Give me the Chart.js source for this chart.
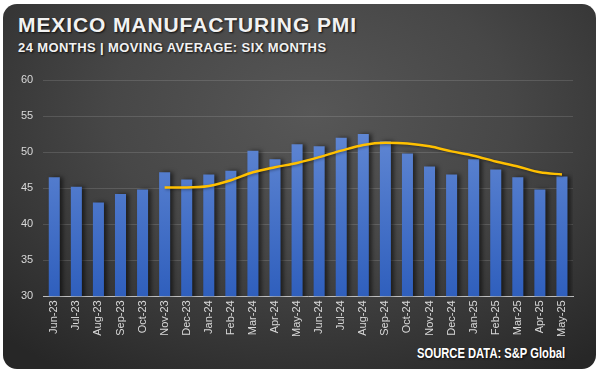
<!DOCTYPE html>
<html>
<head>
<meta charset="utf-8">
<script src="https://cdn.jsdelivr.net/npm/chart.js@4"></script>
<style>
  html, body { margin: 0; padding: 0; background: #ffffff; }
  #wrap { position: relative; width: 601px; height: 373px; overflow: hidden; }
  #card {
    position: absolute; left: 3px; top: 4px; width: 593px; height: 365px;
    border-radius: 14px;
    background: radial-gradient(ellipse 75% 85% at 52% 30%, #575757 0%, #474747 45%, #333333 80%, #272727 100%);
  }
  .t { position: absolute; color: #f2f2f2; font-family: "Liberation Sans", Arial, sans-serif; font-weight: bold; white-space: nowrap;
       text-shadow: 1px 1px 2px rgba(0,0,0,0.8); transform-origin: left top; }
  #title { left: 18px; top: 13px; font-size: 21px; letter-spacing: 0.9px; }
  #sub { left: 18px; top: 40px; font-size: 13px; letter-spacing: 0.4px; }
  #src { left: 417px; top: 345px; font-size: 14px; color: #ffffff; transform: scaleX(0.8); }
  #c { position: absolute; left: 0; top: 0; }
</style>
</head>
<body>
<div id="wrap">
  <div id="card"></div>
  <div class="t" id="title">MEXICO MANUFACTURING PMI</div>
  <div class="t" id="sub">24 MONTHS | MOVING AVERAGE: SIX MONTHS</div>
  <div class="t" id="src">SOURCE DATA: S&amp;P Global</div>
  <canvas id="c" width="601" height="373"></canvas>
</div>
<script>
const categories = ["Jun-23","Jul-23","Aug-23","Sep-23","Oct-23","Nov-23","Dec-23","Jan-24","Feb-24","Mar-24","Apr-24","May-24",
                    "Jun-24","Jul-24","Aug-24","Sep-24","Oct-24","Nov-24","Dec-24","Jan-25","Feb-25","Mar-25","Apr-25","May-25"];
const pmiValues = [46.5,45.2,43.0,44.2,44.8,47.2,46.2,46.9,47.4,50.2,49.0,51.1,
                   50.8,52.0,52.5,51.5,49.8,48.0,46.9,49.0,47.6,46.5,44.8,46.6];
const movingAverage = [null,null,null,null,null,45.1,45.1,45.3,46.1,47.2,47.9,48.5,
                       49.3,50.2,51.0,51.3,51.2,50.8,50.1,49.5,48.7,48.0,47.2,46.9];
const yTicks = [30,35,40,45,50,55,60];

const shadowPlugin = {
  id: 'barShadow',
  beforeDatasetDraw(chart, args) {
    const ctx = chart.ctx;
    ctx.save();
    if (args.meta.type === 'bar') {
      ctx.shadowColor = 'rgba(0,0,0,0.55)';
      ctx.shadowBlur = 4;
      ctx.shadowOffsetX = 3;
      ctx.shadowOffsetY = 0;
    } else {
      ctx.shadowColor = 'rgba(0,0,0,0.4)';
      ctx.shadowBlur = 3;
      ctx.shadowOffsetX = 1;
      ctx.shadowOffsetY = 1;
    }
  },
  afterDatasetDraw(chart) { chart.ctx.restore(); }
};

function barGradient(context) {
  const chart = context.chart;
  const area = chart.chartArea;
  if (!area) return '#4472c4';
  const g = chart.ctx.createLinearGradient(0, area.top, 0, area.bottom);
  g.addColorStop(0, '#6f93da');
  g.addColorStop(1, '#2f5fbd');
  return g;
}

new Chart(document.getElementById('c'), {
  data: {
    labels: categories,
    datasets: [
      {
        type: 'line',
        label: '6-month moving average',
        data: movingAverage,
        borderColor: '#ffc000',
        borderWidth: 2.5,
        pointRadius: 0,
        tension: 0.4,
        cubicInterpolationMode: 'monotone',
        fill: false,
        order: 0
      },
      {
        type: 'bar',
        label: 'Mexico Manufacturing PMI',
        data: pmiValues,
        backgroundColor: barGradient,
        barPercentage: 0.5,
        categoryPercentage: 1.0,
        order: 1
      }
    ]
  },
  options: {
    responsive: false,
    animation: false,
    devicePixelRatio: 1,
    layout: { padding: { top: 80, left: 11, right: 28, bottom: 32 } },
    plugins: { legend: { display: false }, tooltip: { enabled: false }, title: { display: false } },
    scales: {
      x: {
        grid: { display: false, drawTicks: false },
        border: { display: true, color: '#bfbfbf', width: 1 },
        ticks: {
          color: '#d9d9d9', font: { family: 'Liberation Sans', size: 11 },
          minRotation: 90, maxRotation: 90, autoSkip: false, padding: 4
        }
      },
      y: {
        min: 30, max: 60,
        afterBuildTicks(axis) { axis.ticks = yTicks.map(v => ({ value: v })); },
        grid: { color: 'rgba(255,255,255,0.13)', drawTicks: false, lineWidth: 1 },
        border: { display: false },
        ticks: { color: '#d9d9d9', font: { family: 'Liberation Sans', size: 11 }, padding: 10 }
      }
    }
  },
  plugins: [shadowPlugin]
});
</script>
</body>
</html>
